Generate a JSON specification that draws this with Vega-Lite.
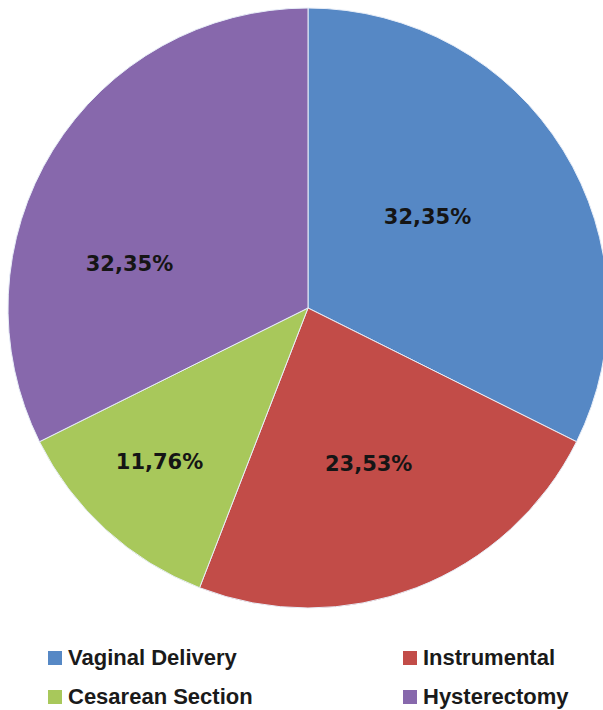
{
  "$schema": "https://vega.github.io/schema/vega-lite/v6.json",
  "width": 616,
  "height": 616,
  "autosize": "none",
  "padding": {"left": 0, "top": 0, "right": 0, "bottom": 94},
  "background": "#ffffff",
  "config": {"view": {"stroke": null}},
  "data": {
    "values": [
      {"category": "Vaginal Delivery", "percent": 32.35, "label": "32,35%", "order": 1},
      {"category": "Instrumental", "percent": 23.53, "label": "23,53%", "order": 2},
      {"category": "Cesarean Section", "percent": 11.76, "label": "11,76%", "order": 3},
      {"category": "Hysterectomy", "percent": 32.35, "label": "32,35%", "order": 4}
    ]
  },
  "encoding": {
    "theta": {"field": "percent", "type": "quantitative", "stack": true},
    "order": {"field": "order", "type": "quantitative"}
  },
  "layer": [
    {
      "mark": {"type": "arc", "outerRadius": 300, "stroke": "#e8eef8", "strokeWidth": 1},
      "encoding": {
        "color": {
          "field": "category",
          "type": "nominal",
          "sort": ["Vaginal Delivery", "Instrumental", "Cesarean Section", "Hysterectomy"],
          "scale": {
            "domain": ["Vaginal Delivery", "Instrumental", "Cesarean Section", "Hysterectomy"],
            "range": ["#5688C5", "#C24C48", "#A8C85B", "#8768AC"]
          },
          "legend": {
            "orient": "none",
            "legendX": 44,
            "legendY": 647,
            "direction": "horizontal",
            "title": null,
            "columns": 2,
            "columnPadding": 146,
            "rowPadding": 17,
            "symbolType": "square",
            "symbolSize": 196,
            "symbolStrokeWidth": 0,
            "labelFont": "Liberation Sans",
            "labelFontWeight": "bold",
            "labelFontSize": 22,
            "labelColor": "#1a1a1a",
            "labelOffset": 2,
            "labelLimit": 300
          }
        }
      }
    },
    {
      "mark": {"type": "text", "radius": 150, "dx": -8, "dy": -11, "font": "DejaVu Sans", "fontWeight": "bold", "fontSize": 21, "color": "#151515"},
      "encoding": {"text": {"condition": {"test": "datum.order == 1", "field": "label"}, "value": ""}}
    },
    {
      "mark": {"type": "text", "radius": 168, "font": "DejaVu Sans", "fontWeight": "bold", "fontSize": 21, "color": "#151515"},
      "encoding": {"text": {"condition": {"test": "datum.order == 2", "field": "label"}, "value": ""}}
    },
    {
      "mark": {"type": "text", "radius": 210, "dx": -7, "font": "DejaVu Sans", "fontWeight": "bold", "fontSize": 21, "color": "#151515"},
      "encoding": {"text": {"condition": {"test": "datum.order == 3", "field": "label"}, "value": ""}}
    },
    {
      "mark": {"type": "text", "radius": 190, "dx": -17, "dy": 57, "font": "DejaVu Sans", "fontWeight": "bold", "fontSize": 21, "color": "#151515"},
      "encoding": {"text": {"condition": {"test": "datum.order == 4", "field": "label"}, "value": ""}}
    }
  ]
}
